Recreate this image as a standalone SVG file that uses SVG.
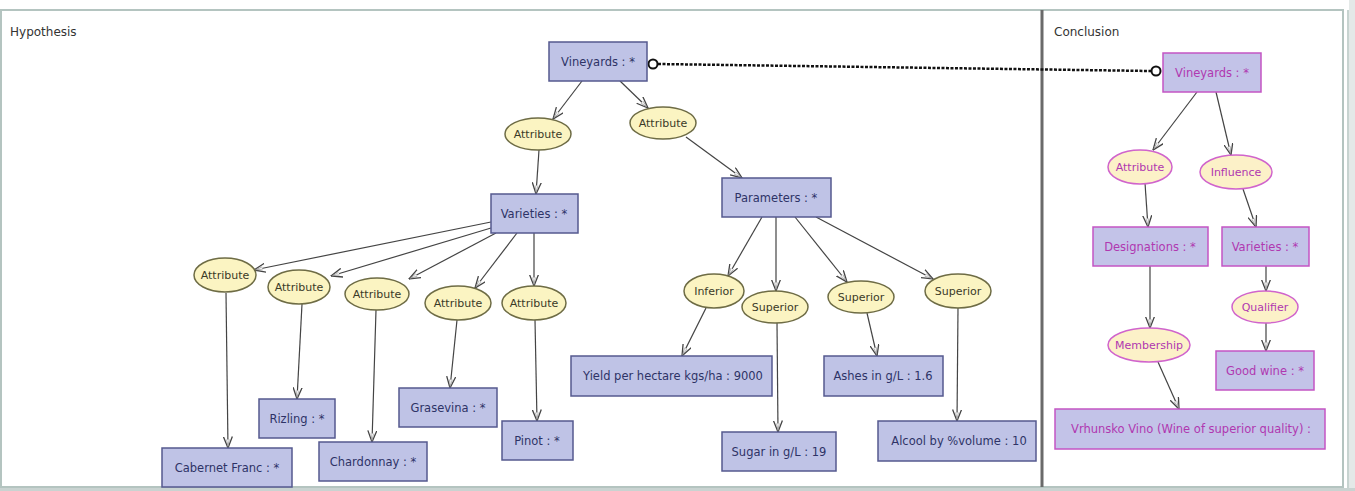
<svg xmlns="http://www.w3.org/2000/svg" width="1355" height="491" viewBox="0 0 1355 491">
<defs>
<style>
.frame{fill:none;stroke:#b4c4c0;stroke-width:2}
.div{stroke:#6a6a6a;stroke-width:3}
.title{font-family:"DejaVu Sans",sans-serif;font-size:12px;fill:#333}
.hb{fill:#bfc3e6;stroke:#55598f;stroke-width:1.5}
.cb{fill:#c3c3e8;stroke:#c455c4;stroke-width:1.5}
.he{fill:#fbf4c2;stroke:#6e6c45;stroke-width:1.5}
.ce{fill:#fcf1c8;stroke:#d064cc;stroke-width:1.5}
.ht{font-family:"DejaVu Sans",sans-serif;font-size:11.5px;fill:#2e3366;text-anchor:middle}
.hte{font-family:"DejaVu Sans",sans-serif;font-size:11px;fill:#3a3a28;text-anchor:middle}
.ct{font-family:"DejaVu Sans",sans-serif;font-size:11.5px;fill:#b038b0;text-anchor:middle}
.cte{font-family:"DejaVu Sans",sans-serif;font-size:11px;fill:#b038b0;text-anchor:middle}
.edge{stroke:#444;stroke-width:1.2;fill:none;marker-end:url(#arr)}
.dots{stroke:#111;stroke-width:2.5;stroke-dasharray:3 1.5;fill:none}
.ring{fill:#fff;stroke:#111;stroke-width:2}
</style>
<marker id="arr" viewBox="0 0 12 10" refX="11.5" refY="5" markerWidth="12" markerHeight="10" markerUnits="userSpaceOnUse" orient="auto">
<path d="M0,0.5 L11.5,5 L0,9.5" fill="none" stroke="#444" stroke-width="1.3"/>
<path d="M3,3.5 L10,5 L3,6.5" fill="#eee" stroke="#999" stroke-width="0.6"/>
</marker>
</defs>
<rect x="0" y="0" width="1355" height="491" fill="#ffffff"/>
<rect x="1349" y="0" width="6" height="491" fill="#e4e9e8"/>
<rect x="0" y="488" width="1355" height="3" fill="#c9d3d1"/>
<rect x="1" y="10" width="1342" height="477" class="frame"/>
<line x1="1348" y1="10" x2="1348" y2="488" stroke="#b4c4c0" stroke-width="1.5"/>
<line x1="1042" y1="10" x2="1042" y2="487" class="div"/>
<text x="10" y="36" class="title">Hypothesis</text>
<text x="1054" y="36" class="title">Conclusion</text>

<g id="connectors">
<line class="edge" x1="582" y1="81" x2="553" y2="119"/>
<line class="edge" x1="620" y1="81" x2="648" y2="108"/>
<line class="edge" x1="539" y1="150" x2="536" y2="194"/>
<line class="edge" x1="686" y1="137" x2="742" y2="178"/>
<line class="edge" x1="491" y1="222" x2="254" y2="270"/>
<line class="edge" x1="491" y1="228" x2="331" y2="276"/>
<line class="edge" x1="496" y1="233" x2="409" y2="279"/>
<line class="edge" x1="517" y1="233" x2="475" y2="288"/>
<line class="edge" x1="534" y1="233" x2="534" y2="286"/>
<line class="edge" x1="226" y1="293" x2="228" y2="448"/>
<line class="edge" x1="302" y1="304" x2="297" y2="399"/>
<line class="edge" x1="376" y1="310" x2="372" y2="442"/>
<line class="edge" x1="457" y1="320" x2="450" y2="388"/>
<line class="edge" x1="535" y1="320" x2="537" y2="421"/>
<line class="edge" x1="762" y1="217" x2="728" y2="276"/>
<line class="edge" x1="776" y1="217" x2="776" y2="291"/>
<line class="edge" x1="795" y1="217" x2="847" y2="282"/>
<line class="edge" x1="816" y1="217" x2="933" y2="279"/>
<line class="edge" x1="706" y1="308" x2="682" y2="356"/>
<line class="edge" x1="777" y1="323" x2="778" y2="432"/>
<line class="edge" x1="867" y1="313" x2="877" y2="356"/>
<line class="edge" x1="958" y1="308" x2="957" y2="421"/>
<line class="edge" x1="1197" y1="92" x2="1153" y2="150"/>
<line class="edge" x1="1216" y1="92" x2="1231" y2="155"/>
<line class="edge" x1="1145" y1="183" x2="1148" y2="227"/>
<line class="edge" x1="1243" y1="189" x2="1256" y2="227"/>
<line class="edge" x1="1150" y1="266" x2="1150" y2="328"/>
<line class="edge" x1="1266" y1="266" x2="1266" y2="291"/>
<line class="edge" x1="1266" y1="323" x2="1266" y2="351"/>
<line class="edge" x1="1158" y1="362" x2="1179" y2="409"/>
<line class="dots" x1="658" y1="64" x2="1151" y2="71"/>
<circle class="ring" cx="653" cy="64" r="4.5"/>
<circle class="ring" cx="1156" cy="71" r="4.5"/>
</g>

<g id="h-vineyards"><rect class="hb" x="549" y="42" width="98" height="39"/><text class="ht" x="598" y="66">Vineyards : *</text></g>
<g id="h-attr1"><ellipse class="he" cx="538" cy="134" rx="33" ry="16"/><text class="hte" x="538" y="138">Attribute</text></g>
<g id="h-attr2"><ellipse class="he" cx="663" cy="123" rx="33" ry="16"/><text class="hte" x="663" y="127">Attribute</text></g>
<g id="h-varieties"><rect class="hb" x="491" y="194" width="87" height="39"/><text class="ht" x="534" y="218">Varieties : *</text></g>
<g id="h-parameters"><rect class="hb" x="722" y="178" width="109" height="39"/><text class="ht" x="776" y="202">Parameters : *</text></g>
<g id="h-va1"><ellipse class="he" cx="225" cy="275" rx="31" ry="17"/><text class="hte" x="225" y="279">Attribute</text></g>
<g id="h-va2"><ellipse class="he" cx="299" cy="287" rx="31" ry="17"/><text class="hte" x="299" y="291">Attribute</text></g>
<g id="h-va3"><ellipse class="he" cx="377" cy="294" rx="32" ry="16"/><text class="hte" x="377" y="298">Attribute</text></g>
<g id="h-va4"><ellipse class="he" cx="458" cy="303" rx="33" ry="17"/><text class="hte" x="458" y="307">Attribute</text></g>
<g id="h-va5"><ellipse class="he" cx="534" cy="303" rx="32" ry="17"/><text class="hte" x="534" y="307">Attribute</text></g>
<g id="h-cabernet"><rect class="hb" x="162" y="448" width="130" height="39"/><text class="ht" x="227" y="472">Cabernet Franc : *</text></g>
<g id="h-rizling"><rect class="hb" x="259" y="399" width="76" height="39"/><text class="ht" x="297" y="423">Rizling : *</text></g>
<g id="h-chardonnay"><rect class="hb" x="319" y="442" width="108" height="39"/><text class="ht" x="373" y="466">Chardonnay : *</text></g>
<g id="h-grasevina"><rect class="hb" x="399" y="388" width="98" height="39"/><text class="ht" x="448" y="412">Grasevina : *</text></g>
<g id="h-pinot"><rect class="hb" x="502" y="421" width="71" height="39"/><text class="ht" x="537" y="445">Pinot : *</text></g>
<g id="h-inferior"><ellipse class="he" cx="714" cy="291" rx="30" ry="17"/><text class="hte" x="714" y="295">Inferior</text></g>
<g id="h-sup1"><ellipse class="he" cx="775" cy="307" rx="33" ry="16"/><text class="hte" x="775" y="311">Superior</text></g>
<g id="h-sup2"><ellipse class="he" cx="861" cy="297" rx="33" ry="16"/><text class="hte" x="861" y="301">Superior</text></g>
<g id="h-sup3"><ellipse class="he" cx="958" cy="291" rx="33" ry="17"/><text class="hte" x="958" y="295">Superior</text></g>
<g id="h-yield"><rect class="hb" x="571" y="356" width="201" height="40"/><text class="ht" x="673" y="380">Yield per hectare kgs/ha : 9000</text></g>
<g id="h-sugar"><rect class="hb" x="722" y="432" width="114" height="39"/><text class="ht" x="779" y="456">Sugar in g/L : 19</text></g>
<g id="h-ashes"><rect class="hb" x="824" y="356" width="119" height="40"/><text class="ht" x="883" y="380">Ashes in g/L : 1.6</text></g>
<g id="h-alcool"><rect class="hb" x="878" y="421" width="158" height="40"/><text class="ht" x="959" y="445">Alcool by %volume : 10</text></g>

<g id="c-vineyards"><rect class="cb" x="1163" y="53" width="98" height="39"/><text class="ct" x="1212" y="77">Vineyards : *</text></g>
<g id="c-attribute"><ellipse class="ce" cx="1140" cy="167" rx="32" ry="17"/><text class="cte" x="1140" y="171">Attribute</text></g>
<g id="c-influence"><ellipse class="ce" cx="1236" cy="172" rx="36" ry="17"/><text class="cte" x="1236" y="176">Influence</text></g>
<g id="c-designations"><rect class="cb" x="1093" y="227" width="115" height="39"/><text class="ct" x="1150" y="251">Designations : *</text></g>
<g id="c-varieties"><rect class="cb" x="1222" y="227" width="87" height="39"/><text class="ct" x="1265" y="251">Varieties : *</text></g>
<g id="c-qualifier"><ellipse class="ce" cx="1265" cy="307" rx="33" ry="16"/><text class="cte" x="1265" y="311">Qualifier</text></g>
<g id="c-membership"><ellipse class="ce" cx="1149" cy="345" rx="41" ry="17"/><text class="cte" x="1149" y="349">Membership</text></g>
<g id="c-goodwine"><rect class="cb" x="1216" y="351" width="98" height="39"/><text class="ct" x="1265" y="375">Good wine : *</text></g>
<g id="c-vrhunsko"><rect class="cb" x="1055" y="409" width="270" height="40"/><text class="ct" x="1191" y="433">Vrhunsko Vino (Wine of superior quality) :</text></g>
</svg>
